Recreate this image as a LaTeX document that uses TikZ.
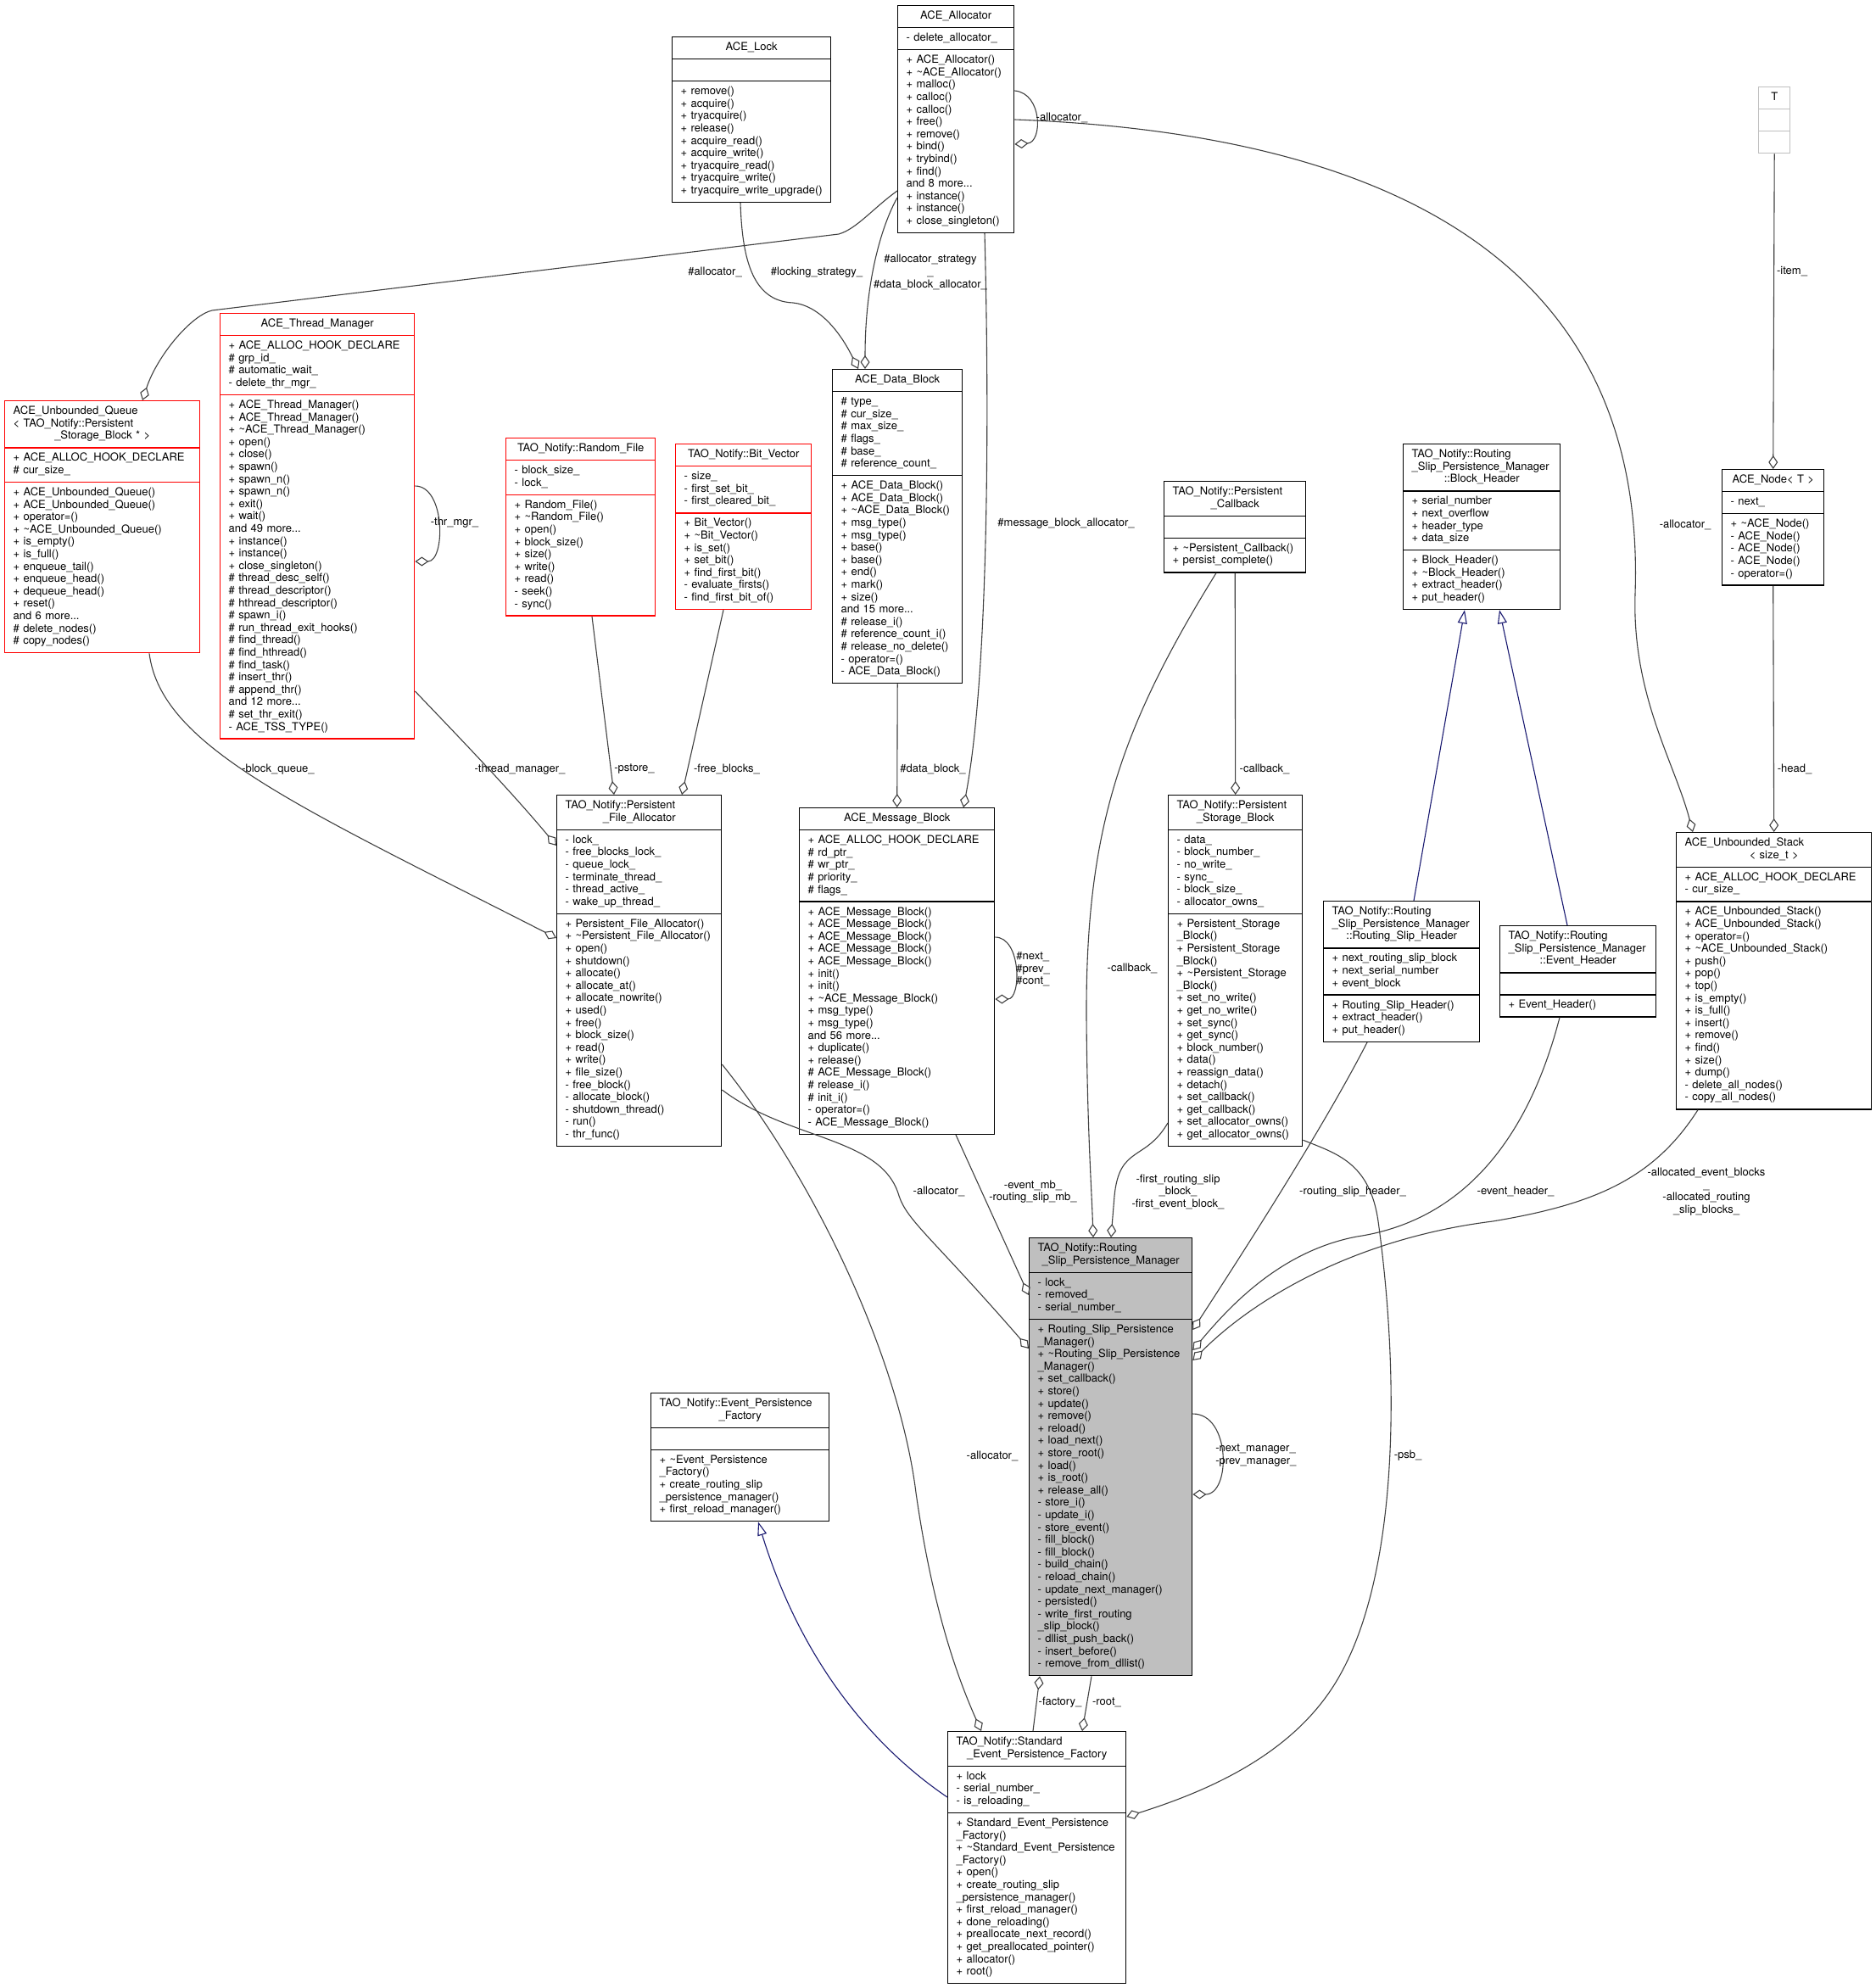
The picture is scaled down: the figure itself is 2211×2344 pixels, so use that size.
\documentclass[tikz,border=0pt]{standalone}
\usepackage{fontspec}
\setmainfont{TeX Gyre Heros}
\usetikzlibrary{shapes.multipart, arrows.meta, calc}

\definecolor{edgegray}{HTML}{404040}
\definecolor{inhblue}{HTML}{191970}
\definecolor{boxgray}{HTML}{BFBFBF}

\newcommand{\dfont}{\fontsize{6.5}{7.3}\selectfont}
\newcommand{\ctrln}[1]{\makebox[\linewidth]{#1}\ignorespaces}

\tikzset{
  cls/.style  = {rectangle split, rectangle split parts=3,
                 draw=black, line width=0.7pt, anchor=north west,
                 text width=#1, align=left,
                 inner xsep=5pt, inner ysep=2.5pt, font=\dfont,
                 execute at begin node=\dfont\strut,
                 execute at end node=\strut},
  comp/.style = {draw=edgegray, line width=0.55pt,
                 -{Diamond[open, length=8pt, width=5.5pt]}},
  inh/.style  = {draw=inhblue, line width=0.55pt,
                 -{Triangle[open, length=8pt, width=5.5pt]}},
  lbl/.style  = {font=\dfont, inner sep=0pt, align=center},
}

\begin{document}
\begin{tikzpicture}[x=0.5pt, y=-0.5pt]
\useasboundingbox (0,0) rectangle (2211,2344);

% ── Classes, top rows ───────────────────────────────────────
\node[cls=58.5pt] (aalloc) at (1058,6)
  {\ctrln{ACE\_Allocator}
   \nodepart{two}-~delete\_allocator\_
   \nodepart{three}+~ACE\_Allocator()\\+~\textasciitilde ACE\_Allocator()\\+~malloc()\\+~calloc()\\+~calloc()\\+~free()\\+~remove()\\+~bind()\\+~trybind()\\+~find()\\and 8 more...\\+~instance()\\+~instance()\\+~close\_singleton()};

\node[cls=83.5pt] (alock) at (792,43)
  {\ctrln{ACE\_Lock}
   \nodepart{two}
   \nodepart{three}+~remove()\\+~acquire()\\+~tryacquire()\\+~release()\\+~acquire\_read()\\+~acquire\_write()\\+~tryacquire\_read()\\+~tryacquire\_write()\\+~tryacquire\_write\_upgrade()};

\node[cls=8.5pt, draw=boxgray] (tparam) at (2073,102)
  {\ctrln{T}\nodepart{two}\nodepart{three}};

\node[cls=50pt] (anode) at (2030,553)
  {\ctrln{ACE\_Node<~T~>}
   \nodepart{two}-~next\_
   \nodepart{three}+~\textasciitilde ACE\_Node()\\-~ACE\_Node()\\-~ACE\_Node()\\-~ACE\_Node()\\-~operator=()};

\node[cls=82.5pt] (blkhdr) at (1654,523)
  {TAO\_Notify::Routing\\\_Slip\_Persistence\_Manager\\\ctrln{::Block\_Header}
   \nodepart{two}+~serial\_number\\+~next\_overflow\\+~header\_type\\+~data\_size
   \nodepart{three}+~Block\_Header()\\+~\textasciitilde Block\_Header()\\+~extract\_header()\\+~put\_header()};

\node[cls=73.5pt] (pcallback) at (1372,567)
  {TAO\_Notify::Persistent\\\ctrln{\_Callback}
   \nodepart{two}
   \nodepart{three}+~\textasciitilde Persistent\_Callback()\\+~persist\_complete()};

\node[cls=104.5pt, draw=red] (thrmgr) at (259,369)
  {\ctrln{ACE\_Thread\_Manager}
   \nodepart{two}+~ACE\_ALLOC\_HOOK\_DECLARE\\\#~grp\_id\_\\\#~automatic\_wait\_\\-~delete\_thr\_mgr\_
   \nodepart{three}+~ACE\_Thread\_Manager()\\+~ACE\_Thread\_Manager()\\+~\textasciitilde ACE\_Thread\_Manager()\\+~open()\\+~close()\\+~spawn()\\+~spawn\_n()\\+~spawn\_n()\\+~exit()\\+~wait()\\and 49 more...\\+~instance()\\+~instance()\\+~close\_singleton()\\\#~thread\_desc\_self()\\\#~thread\_descriptor()\\\#~hthread\_descriptor()\\\#~spawn\_i()\\\#~run\_thread\_exit\_hooks()\\\#~find\_thread()\\\#~find\_hthread()\\\#~find\_task()\\\#~insert\_thr()\\\#~append\_thr()\\and 12 more...\\\#~set\_thr\_exit()\\-~ACE\_TSS\_TYPE()};

\node[cls=105pt, draw=red] (uqueue) at (5,472)
  {ACE\_Unbounded\_Queue\\<~TAO\_Notify::Persistent\\\ctrln{\_Storage\_Block~*~>}
   \nodepart{two}+~ACE\_ALLOC\_HOOK\_DECLARE\\\#~cur\_size\_
   \nodepart{three}+~ACE\_Unbounded\_Queue()\\+~ACE\_Unbounded\_Queue()\\+~operator=()\\+~\textasciitilde ACE\_Unbounded\_Queue()\\+~is\_empty()\\+~is\_full()\\+~enqueue\_tail()\\+~enqueue\_head()\\+~dequeue\_head()\\+~reset()\\and 6 more...\\\#~delete\_nodes()\\\#~copy\_nodes()};

\node[cls=78pt, draw=red] (rfile) at (596,516)
  {\ctrln{TAO\_Notify::Random\_File}
   \nodepart{two}-~block\_size\_\\-~lock\_
   \nodepart{three}+~Random\_File()\\+~\textasciitilde Random\_File()\\+~open()\\+~block\_size()\\+~size()\\+~write()\\+~read()\\-~seek()\\-~sync()};

\node[cls=70pt, draw=red] (bitvec) at (796,523)
  {\ctrln{TAO\_Notify::Bit\_Vector}
   \nodepart{two}-~size\_\\-~first\_set\_bit\_\\-~first\_cleared\_bit\_
   \nodepart{three}+~Bit\_Vector()\\+~\textasciitilde Bit\_Vector()\\+~is\_set()\\+~set\_bit()\\+~find\_first\_bit()\\-~evaluate\_firsts()\\-~find\_first\_bit\_of()};

\node[cls=66.5pt] (dblock) at (981,435)
  {\ctrln{ACE\_Data\_Block}
   \nodepart{two}\#~type\_\\\#~cur\_size\_\\\#~max\_size\_\\\#~flags\_\\\#~base\_\\\#~reference\_count\_
   \nodepart{three}+~ACE\_Data\_Block()\\+~ACE\_Data\_Block()\\+~\textasciitilde ACE\_Data\_Block()\\+~msg\_type()\\+~msg\_type()\\+~base()\\+~base()\\+~end()\\+~mark()\\+~size()\\and 15 more...\\\#~release\_i()\\\#~reference\_count\_i()\\\#~release\_no\_delete()\\-~operator=()\\-~ACE\_Data\_Block()};

% ── Classes, middle row ─────────────────────────────────────
\node[cls=87pt] (pfalloc) at (656,937)
  {TAO\_Notify::Persistent\\\ctrln{\_File\_Allocator}
   \nodepart{two}-~lock\_\\-~free\_blocks\_lock\_\\-~queue\_lock\_\\-~terminate\_thread\_\\-~thread\_active\_\\-~wake\_up\_thread\_
   \nodepart{three}+~Persistent\_File\_Allocator()\\+~\textasciitilde Persistent\_File\_Allocator()\\+~open()\\+~shutdown()\\+~allocate()\\+~allocate\_at()\\+~allocate\_nowrite()\\+~used()\\+~free()\\+~block\_size()\\+~read()\\+~write()\\+~file\_size()\\-~free\_block()\\-~allocate\_block()\\-~shutdown\_thread()\\-~run()\\-~thr\_func()};

\node[cls=105pt] (mblock) at (942,952)
  {\ctrln{ACE\_Message\_Block}
   \nodepart{two}+~ACE\_ALLOC\_HOOK\_DECLARE\\\#~rd\_ptr\_\\\#~wr\_ptr\_\\\#~priority\_\\\#~flags\_
   \nodepart{three}+~ACE\_Message\_Block()\\+~ACE\_Message\_Block()\\+~ACE\_Message\_Block()\\+~ACE\_Message\_Block()\\+~ACE\_Message\_Block()\\+~init()\\+~init()\\+~\textasciitilde ACE\_Message\_Block()\\+~msg\_type()\\+~msg\_type()\\and 56 more...\\+~duplicate()\\+~release()\\\#~ACE\_Message\_Block()\\\#~release\_i()\\\#~init\_i()\\-~operator=()\\-~ACE\_Message\_Block()};

\node[cls=69pt] (psblock) at (1377,937)
  {TAO\_Notify::Persistent\\\ctrln{\_Storage\_Block}
   \nodepart{two}-~data\_\\-~block\_number\_\\-~no\_write\_\\-~sync\_\\-~block\_size\_\\-~allocator\_owns\_
   \nodepart{three}+~Persistent\_Storage\\\_Block()\\+~Persistent\_Storage\\\_Block()\\+~\textasciitilde Persistent\_Storage\\\_Block()\\+~set\_no\_write()\\+~get\_no\_write()\\+~set\_sync()\\+~get\_sync()\\+~block\_number()\\+~data()\\+~reassign\_data()\\+~detach()\\+~set\_callback()\\+~get\_callback()\\+~set\_allocator\_owns()\\+~get\_allocator\_owns()};

\node[cls=82pt] (rshdr) at (1560,1062)
  {TAO\_Notify::Routing\\\_Slip\_Persistence\_Manager\\\ctrln{::Routing\_Slip\_Header}
   \nodepart{two}+~next\_routing\_slip\_block\\+~next\_serial\_number\\+~event\_block
   \nodepart{three}+~Routing\_Slip\_Header()\\+~extract\_header()\\+~put\_header()};

\node[cls=82pt] (evhdr) at (1768,1091)
  {TAO\_Notify::Routing\\\_Slip\_Persistence\_Manager\\\ctrln{::Event\_Header}
   \nodepart{two}
   \nodepart{three}+~Event\_Header()};

\node[cls=105pt] (ustack) at (1976,981)
  {ACE\_Unbounded\_Stack\\\ctrln{<~size\_t~>}
   \nodepart{two}+~ACE\_ALLOC\_HOOK\_DECLARE\\-~cur\_size\_
   \nodepart{three}+~ACE\_Unbounded\_Stack()\\+~ACE\_Unbounded\_Stack()\\+~operator=()\\+~\textasciitilde ACE\_Unbounded\_Stack()\\+~push()\\+~pop()\\+~top()\\+~is\_empty()\\+~is\_full()\\+~insert()\\+~remove()\\+~find()\\+~size()\\+~dump()\\-~delete\_all\_nodes()\\-~copy\_all\_nodes()};

% ── Classes, bottom ─────────────────────────────────────────
\node[cls=86pt, fill=boxgray] (rspm) at (1213,1459)
  {TAO\_Notify::Routing\\\ctrln{\_Slip\_Persistence\_Manager}
   \nodepart{two}-~lock\_\\-~removed\_\\-~serial\_number\_
   \nodepart{three}+~Routing\_Slip\_Persistence\\\_Manager()\\+~\textasciitilde Routing\_Slip\_Persistence\\\_Manager()\\+~set\_callback()\\+~store()\\+~update()\\+~remove()\\+~reload()\\+~load\_next()\\+~store\_root()\\+~load()\\+~is\_root()\\+~release\_all()\\-~store\_i()\\-~update\_i()\\-~store\_event()\\-~fill\_block()\\-~fill\_block()\\-~build\_chain()\\-~reload\_chain()\\-~update\_next\_manager()\\-~persisted()\\-~write\_first\_routing\\\_slip\_block()\\-~dllist\_push\_back()\\-~insert\_before()\\-~remove\_from\_dllist()};

\node[cls=95pt] (epfact) at (767,1642)
  {TAO\_Notify::Event\_Persistence\\\ctrln{\_Factory}
   \nodepart{two}
   \nodepart{three}+~\textasciitilde Event\_Persistence\\\_Factory()\\+~create\_routing\_slip\\\_persistence\_manager()\\+~first\_reload\_manager()};

\node[cls=95pt] (sepfact) at (1117,2041)
  {TAO\_Notify::Standard\\\ctrln{\_Event\_Persistence\_Factory}
   \nodepart{two}+~lock\\-~serial\_number\_\\-~is\_reloading\_
   \nodepart{three}+~Standard\_Event\_Persistence\\\_Factory()\\+~\textasciitilde Standard\_Event\_Persistence\\\_Factory()\\+~open()\\+~create\_routing\_slip\\\_persistence\_manager()\\+~first\_reload\_manager()\\+~done\_reloading()\\+~preallocate\_next\_record()\\+~get\_preallocated\_pointer()\\+~allocator()\\+~root()};

% ── Members of ACE_Allocator ───────────────────────────────
\draw[comp] ($(aalloc.north east)+(0,101)$) .. controls +(33,3) and +(33,-2) .. ($(aalloc.north east)+(0,164)$);
\draw[comp] ($(aalloc.north west)+(0,219)$) .. controls (1030,245) and (1010,270) .. (989,276)
  -- (250,366) .. controls (225,372) and (185,420) .. ($(uqueue.north west)+(163,0)$);
\draw[comp] ($(alock.south west)+(81,0)$) .. controls (875,300) and (885,355) .. (935,357)
  .. controls (965,360) and (990,390) .. ($(dblock.north west)+(31,0)$);
\draw[comp] ($(aalloc.north west)+(0,227)$) .. controls (1040,265) and (1020,330) .. ($(dblock.north west)+(39,0)$);
\draw[comp] ($(aalloc.south west)+(103,0)$) .. controls (1167,500) and (1165,800) .. ($(mblock.north west)+(194,0)$);
\draw[comp] ($(aalloc.north east)+(0,135)$) .. controls (1700,160) and (1940,350) .. (1928,700)
  .. controls (1924,820) and (1975,900) .. ($(ustack.north west)+(20,0)$);

% ── Middle links ────────────────────────────────────────────
\draw[comp] (dblock.south) -- (mblock.north);
\draw[comp] ($(rfile.south west)+(102,0)$) -- ($(pfalloc.north west)+(68,0)$);
\draw[comp] ($(bitvec.south west)+(57,0)$) -- ($(pfalloc.north west)+(148,0)$);
\draw[comp] ($(thrmgr.north east)+(0,204)$) .. controls +(36,0) and +(36,0) .. ($(thrmgr.north east)+(0,293)$);
\draw[comp] ($(thrmgr.north east)+(0,446)$) .. controls (540,868) and (600,930) .. ($(pfalloc.north west)+(0,60)$);
\draw[comp] ($(uqueue.south west)+(171,0)$) .. controls (190,880) and (350,950) .. ($(pfalloc.north west)+(0,169)$);
\draw[comp] ($(mblock.north east)+(0,153)$) .. controls +(31,0) and +(31,0) .. ($(mblock.north east)+(0,226)$);
\draw[comp] (pcallback.south) -- (psblock.north);
\draw[comp] (tparam.south) -- (anode.north);
\draw[comp] (anode.south) -- (ustack.north);
\draw[inh] ($(rshdr.north west)+(107,0)$) -- ($(blkhdr.south west)+(73,0)$);
\draw[inh] ($(evhdr.north west)+(80,0)$) -- ($(blkhdr.south west)+(114,0)$);

% ── Members of Routing_Slip_Persistence_Manager ─────────────
\draw[comp] ($(pcallback.south west)+(62,0)$) .. controls (1320,860) and (1280,980) .. (1281,1200)
  .. controls (1282,1330) and (1287,1400) .. ($(rspm.north west)+(76,0)$);
\draw[comp] ($(psblock.north west)+(0,387)$) .. controls (1350,1370) and (1320,1350) .. (1314,1410)
  -- ($(rspm.north west)+(97,0)$);
\draw[comp] ($(mblock.south west)+(185,0)$) -- ($(rspm.north west)+(0,68)$);
\draw[comp] ($(pfalloc.north east)+(0,348)$) .. controls (930,1345) and (1040,1340) .. (1060,1410)
  .. controls (1070,1440) and (1100,1460) .. ($(rspm.north west)+(0,131)$);
\draw[comp] ($(rshdr.south west)+(52,0)$) .. controls (1560,1330) and (1470,1470) .. ($(rspm.north east)+(0,109)$);
\draw[comp] ($(evhdr.south west)+(71,0)$) .. controls (1800,1350) and (1720,1440) .. (1600,1458)
  .. controls (1510,1475) and (1450,1540) .. ($(rspm.north east)+(0,133)$);
\draw[comp] ($(ustack.south west)+(26,0)$) .. controls (1950,1390) and (1880,1420) .. (1760,1440)
  .. controls (1600,1460) and (1480,1530) .. ($(rspm.north east)+(0,145)$);
\draw[comp] ($(rspm.north east)+(0,208)$) .. controls +(45,0) and +(45,0) .. ($(rspm.north east)+(0,303)$);
\draw[comp] ($(sepfact.north west)+(101,0)$) -- ($(rspm.south west)+(13,0)$);

% ── Members of Standard_Event_Persistence_Factory ───────────
\draw[comp] ($(rspm.south west)+(74,0)$) -- ($(sepfact.north west)+(159,0)$);
\draw[comp] ($(pfalloc.north east)+(0,318)$) .. controls (960,1390) and (1060,1600) .. (1080,1760)
  .. controls (1100,1900) and (1130,1980) .. ($(sepfact.north west)+(40,0)$);
\draw[comp] ($(psblock.south east)+(0,-8)$) .. controls (1575,1360) and (1615,1370) .. (1625,1440)
  .. controls (1650,1620) and (1650,1850) .. (1580,1975)
  .. controls (1530,2065) and (1430,2110) .. ($(sepfact.north east)+(0,101)$);
\draw[inh] ($(sepfact.north west)+(0,78)$) .. controls (1030,2060) and (945,1960) .. ($(epfact.south west)+(127,0)$);

% ── Edge labels ─────────────────────────────────────────────
\node[lbl] (lb-self)   at (1252,139)  {-allocator\_};
\node[lbl] (lb-qalloc) at (843,321)   {\#allocator\_};
\node[lbl] (lb-lock)   at (963,321)   {\#locking\_strategy\_};
\node[lbl] (lb-strat)  at (1097,321)  {\#allocator\_strategy\\\_\\\#data\_block\_allocator\_};
\node[lbl] (lb-mbal)   at (1257,617)  {\#message\_block\_allocator\_};
\node[lbl] (lb-salloc) at (1987,619)  {-allocator\_};
\node[lbl] (lb-item)   at (2113,320)  {-item\_};
\node[lbl] (lb-thr)    at (536,616)   {-thr\_mgr\_};
\node[lbl] (lb-bq)     at (328,907)   {-block\_queue\_};
\node[lbl] (lb-tm)     at (613,907)   {-thread\_manager\_};
\node[lbl] (lb-ps)     at (748,907)   {-pstore\_};
\node[lbl] (lb-fb)     at (857,907)   {-free\_blocks\_};
\node[lbl] (lb-db)     at (1100,907)  {\#data\_block\_};
\node[lbl] (lb-cb1)    at (1491,907)  {-callback\_};
\node[lbl] (lb-head)   at (2116,907)  {-head\_};
\node[lbl, anchor=west, align=left] (lb-mbself) at (1198,1143) {\#next\_\\\#prev\_\\\#cont\_};
\node[lbl] (lb-cb2)    at (1335,1142) {-callback\_};
\node[lbl] (lb-pfa)    at (1107,1405) {-allocator\_};
\node[lbl] (lb-mb)     at (1218,1405) {-event\_mb\_\\-routing\_slip\_mb\_};
\node[lbl] (lb-first)  at (1389,1405) {-first\_routing\_slip\\\_block\_\\-first\_event\_block\_};
\node[lbl] (lb-rsh)    at (1595,1405) {-routing\_slip\_header\_};
\node[lbl] (lb-eh)     at (1787,1405) {-event\_header\_};
\node[lbl] (lb-us)     at (2012,1405) {-allocated\_event\_blocks\\\_\\-allocated\_routing\hspace*{21pt}\\\_slip\_blocks\_};
\node[lbl, anchor=west, align=left] (lb-next) at (1433,1716) {-next\_manager\_\\-prev\_manager\_};
\node[lbl] (lb-sepfa)  at (1170,1717) {-allocator\_};
\node[lbl] (lb-psb)    at (1660,1716) {-psb\_};
\node[lbl] (lb-fac)    at (1250,2007) {-factory\_};
\node[lbl] (lb-root)   at (1305,2007) {-root\_};

\end{tikzpicture}
\end{document}
